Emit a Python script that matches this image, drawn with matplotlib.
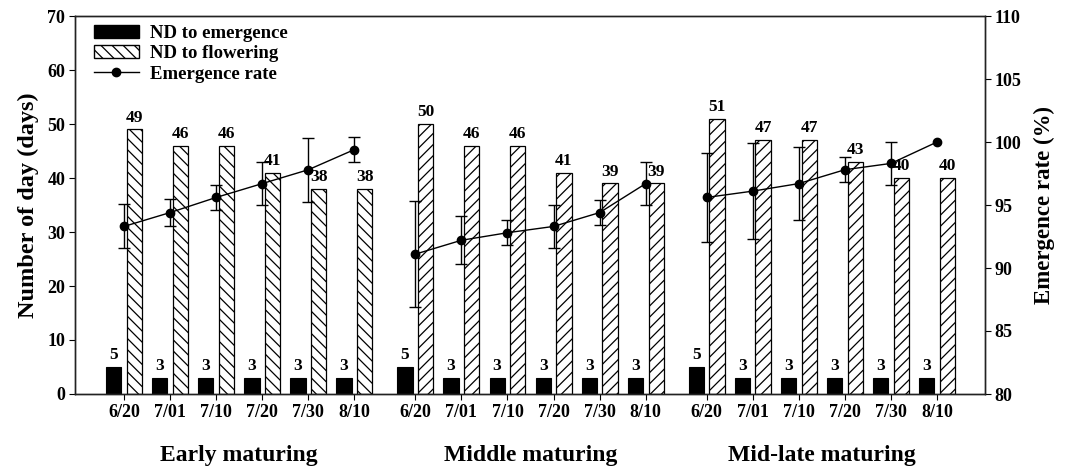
import numpy as np
import matplotlib
matplotlib.use("Agg")
import matplotlib.pyplot as plt
from matplotlib.patches import Patch
from matplotlib.lines import Line2D
from matplotlib.transforms import blended_transform_factory

plt.rcParams['font.family'] = ['Liberation Serif', 'DejaVu Serif']
plt.rcParams['font.weight'] = 'bold'
plt.rcParams['hatch.linewidth'] = 0.9

# ---- data ----
groups = ['Early maturing', 'Middle maturing', 'Mid-late maturing']
dates = ['6/20', '7/01', '7/10', '7/20', '7/30', '8/10']

emerg_early = [5, 3, 3, 3, 3, 3]
emerg_middle = [5, 3, 3, 3, 3, 3]
emerg_late = [5, 3, 3, 3, 3, 3]

flower_early = [49, 46, 46, 41, 38, 38]
flower_middle = [50, 46, 46, 41, 39, 39]
flower_late = [51, 47, 47, 43, 40, 40]

rate_early = [93.3, 94.4, 95.6, 96.7, 97.8, 99.4]
rate_middle = [91.1, 92.2, 92.8, 93.3, 94.4, 96.7]
rate_late = [95.6, 96.1, 96.7, 97.8, 98.3, 100.0]

err_early = [1.75, 1.1, 1.0, 1.7, 2.55, 1.0]
err_middle = [4.2, 1.9, 1.0, 1.7, 1.0, 1.7]
err_late = [3.5, 3.8, 2.9, 1.0, 1.7, 0.0]

emerg = [emerg_early, emerg_middle, emerg_late]
flower = [flower_early, flower_middle, flower_late]
rate = [rate_early, rate_middle, rate_late]
err = [err_early, err_middle, err_late]
hatches = ['\\\\\\', '///', '///']

# ---- figure ----
fig = plt.figure(figsize=(10.66, 4.69), dpi=100)
ax = fig.add_axes([75/1066, 1 - 394/469, 910/1066, 378/469])
ax2 = ax.twinx()

group_start = [0.0, 6.32, 12.64]
bw = 0.33
off = 0.225
all_pos = []
for g in range(3):
    x = group_start[g] + np.arange(len(dates))
    all_pos.extend(x)
    ax.bar(x - off, emerg[g], bw, color='black', edgecolor='black', linewidth=0.8)
    ax.bar(x + off, flower[g], bw, color='white', edgecolor='black',
           hatch=hatches[g], linewidth=0.9)
    for xi, v in zip(x - off, emerg[g]):
        ax.text(xi, v + 0.7, str(v), ha='center', va='bottom', fontsize=12.5, fontweight='bold')
    for xi, v in zip(x + off, flower[g]):
        ax.text(xi, v + 0.7, str(v), ha='center', va='bottom', fontsize=12.5, fontweight='bold')
    r = np.array(rate[g])
    e = np.array(err[g])
    ax2.plot(x, r, color='black', lw=1.0, marker='o', ms=6, zorder=5)
    m = e > 0
    ax2.errorbar(x[m], r[m], yerr=e[m], fmt='none', ecolor='black', elinewidth=1.0,
                 capsize=4, capthick=1.0, zorder=4)

ax.set_xlim(-1.063, 18.68)
ax.set_ylim(0, 70)
ax2.set_ylim(80, 110)
ax.set_yticks(np.arange(0, 71, 10))
ax2.set_yticks(np.arange(80, 111, 5))
ax.set_xticks(all_pos)
ax.set_xticklabels(dates * 3, fontsize=13, fontweight='bold')
ax.tick_params(axis='x', direction='out', length=4, width=0.8, pad=3)
ax.tick_params(axis='y', direction='out', length=4, width=0.8, labelsize=13, pad=3)
ax2.tick_params(axis='y', direction='out', length=4, width=0.8, labelsize=13, pad=3)
for a in (ax, ax2):
    for s in a.spines.values():
        s.set_linewidth(1.0)
        s.set_color('#222222')

ax.set_ylabel('Number of day (days)', fontsize=17.5, fontweight='bold', labelpad=6)
ax2.set_ylabel('Emergence rate (%)', fontsize=16.5, fontweight='bold', labelpad=9)

trans = blended_transform_factory(ax.transData, ax.transAxes)
for g, name in enumerate(groups):
    cx = group_start[g] + (len(dates) - 1) / 2
    ax.text(cx, -0.164, name, transform=trans, ha='center', va='center',
            fontsize=17, fontweight='bold')

handles = [Patch(facecolor='black', edgecolor='black'),
           Patch(facecolor='white', edgecolor='black', hatch='\\\\\\'),
           Line2D([], [], color='black', lw=1.0, marker='o', ms=6)]
labels = ['ND to emergence', 'ND to flowering', 'Emergence rate']
ax.legend(handles, labels, loc='upper left', bbox_to_anchor=(0.006, 1.012), frameon=False,
          prop={'family': 'Liberation Serif', 'weight': 'bold', 'size': 13.5},
          handlelength=2.4, handletextpad=0.6, labelspacing=0.18, borderaxespad=0.3)

fig.savefig('out.png', dpi=100)
